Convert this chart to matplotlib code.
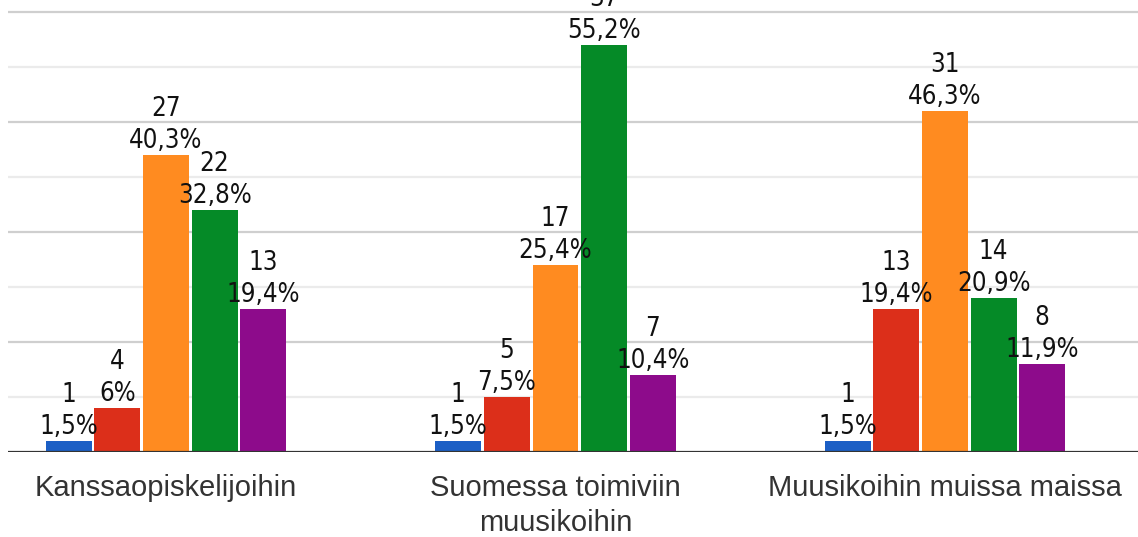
import matplotlib.pyplot as plt
import numpy as np

categories = ["Kanssaopiskelijoihin", "Suomessa toimiviin\nmuusikoihin", "Muusikoihin muissa maissa"]
# counts per series (5 answer options), one list per series
s1 = [1, 1, 1]
s2 = [4, 5, 13]
s3 = [27, 17, 31]
s4 = [22, 37, 14]
s5 = [13, 7, 8]
series = [s1, s2, s3, s4, s5]
pct_labels = [
    ["1,5%", "1,5%", "1,5%"],
    ["6%", "7,5%", "19,4%"],
    ["40,3%", "25,4%", "46,3%"],
    ["32,8%", "55,2%", "20,9%"],
    ["19,4%", "10,4%", "11,9%"],
]
colors = ["#1c5fc5", "#dc2f1a", "#ff8b20", "#058a27", "#8d0b8b"]

fig = plt.figure(figsize=(11.38, 5.37), dpi=100)
ax = fig.add_axes([8 / 1138, 85 / 537, 1130 / 1138, 452 / 537])

x = np.arange(len(categories))
step = 0.1248
width = 0.118

for i, vals in enumerate(series):
    pos = x + (i - 2) * step
    ax.bar(pos, vals, width, color=colors[i], zorder=3)
    for xp, v, p in zip(pos, vals, pct_labels[i]):
        ax.annotate(f"{v}\n{p}", (xp, v), xytext=(0, 0.5), textcoords="offset points",
                    ha="center", va="bottom", fontsize=18.5, linespacing=1.32,
                    family="DejaVu Sans", fontstretch="condensed", color="#111111",
                    zorder=4, annotation_clip=False)

ax.set_xlim(-0.4056, 2.4955)
ax.set_ylim(0, 41.09)

for y in [10, 20, 30, 40]:
    ax.axhline(y, color="#cfcfcf", lw=1.6, zorder=1)
for y in [5, 15, 25, 35]:
    ax.axhline(y, color="#ebebeb", lw=1.6, zorder=1)
ax.axhline(0, color="#333333", lw=1.6, zorder=5)

ax.set_yticks([])
ax.set_xticks(x)
ax.set_xticklabels(categories, fontsize=21, family="Liberation Sans", color="#333333",
                   linespacing=1.3)
ax.tick_params(axis="x", length=0, pad=16)
for s in ax.spines.values():
    s.set_visible(False)

fig.savefig("out.png", dpi=100)
